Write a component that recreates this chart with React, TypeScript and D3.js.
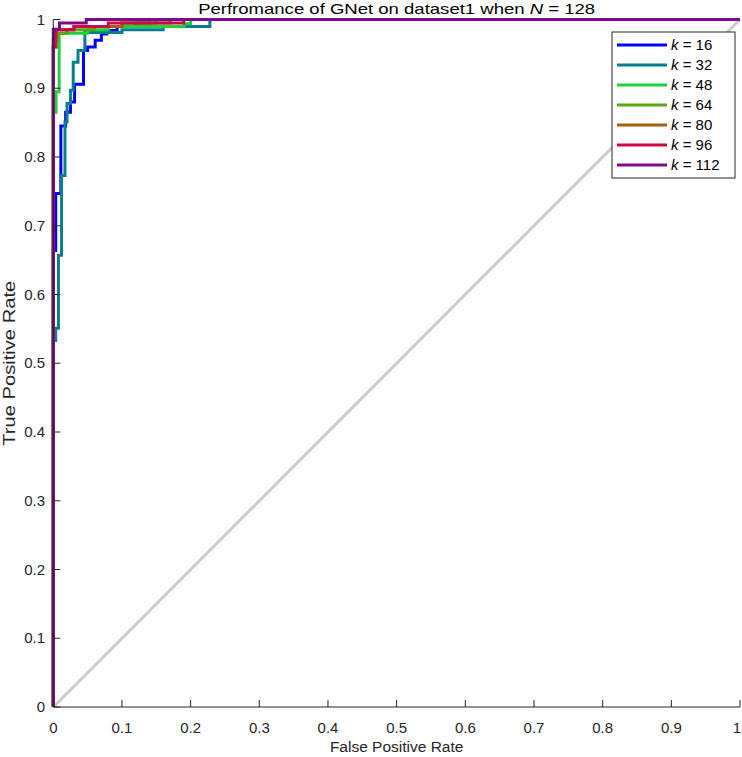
import React from "react";
import * as d3 from "d3";

const seriesLabels = ["16", "32", "48", "64", "80", "96", "112"];
const seriesColors = ["#0000ff", "#0a7f8c", "#1ed23c", "#5ea510", "#a65f0a", "#cc0a46", "#7e0a8c"];

// ROC corner points (FPR, TPR), drawn as step-after curves
const roc16: [number, number][] = [[0, 0], [0, 0.664], [0.0035, 0.747], [0.011, 0.845], [0.018, 0.865], [0.025, 0.88], [0.031, 0.906], [0.044, 0.955], [0.05, 0.96], [0.061, 0.97], [0.07, 0.979], [0.078, 0.984], [0.093, 0.99], [0.12, 0.995], [0.14, 1], [1, 1]];
const roc32: [number, number][] = [[0, 0], [0, 0.533], [0.0035, 0.551], [0.0075, 0.657], [0.012, 0.773], [0.017, 0.851], [0.02, 0.878], [0.025, 0.897], [0.029, 0.938], [0.036, 0.955], [0.046, 0.981], [0.1, 0.985], [0.16, 0.99], [0.228, 0.995], [0.228, 1], [1, 1]];
const roc48: [number, number][] = [[0, 0], [0, 0.865], [0.004, 0.895], [0.0085, 0.98], [0.05, 0.985], [0.08, 0.99], [0.19, 0.994], [0.2, 1], [1, 1]];
const roc64: [number, number][] = [[0, 0], [0, 0.96], [0.005, 0.98], [0.02, 0.985], [0.06, 0.99], [0.1, 0.995], [0.15, 1], [1, 1]];
const roc80: [number, number][] = [[0, 0], [0, 0.97], [0.005, 0.985], [0.03, 0.99], [0.1, 0.995], [0.17, 1], [1, 1]];
const roc96: [number, number][] = [[0, 0], [0, 0.96], [0.003, 0.985], [0.03, 0.99], [0.08, 0.995], [0.19, 1], [1, 1]];
const roc112: [number, number][] = [[0, 0], [0, 0.986], [0.009, 0.995], [0.048, 1], [1, 1]];
const allRoc = [roc16, roc32, roc48, roc64, roc80, roc96, roc112];

const xTicks = [0, 0.1, 0.2, 0.3, 0.4, 0.5, 0.6, 0.7, 0.8, 0.9, 1];
const yTicks = [0, 0.1, 0.2, 0.3, 0.4, 0.5, 0.6, 0.7, 0.8, 0.9, 1];
const diagonal: [number, number][] = [[0, 0], [1, 1]];

const W = 742, H = 757;
const left = 53.3, right = 740, top = 19.5, bottom = 707;
const font = "'Liberation Sans', Arial, sans-serif";
const axisColor = "#262626";

export default function App() {
  const x = d3.scaleLinear().domain([0, 1]).range([left, right]);
  const y = d3.scaleLinear().domain([0, 1]).range([bottom, top]);
  const line = d3.line<[number, number]>().x(d => x(d[0])).y(d => y(d[1])).curve(d3.curveStepAfter);
  const straight = d3.line<[number, number]>().x(d => x(d[0])).y(d => y(d[1]));
  const fmt = (v: number) => (v === 0 ? "0" : v === 1 ? "1" : String(v));

  const legX = 612, legY = 32, legW = 123, legH = 146;

  return (
    <svg width={W} height={H} style={{ position: "absolute", left: 0, top: 0, background: "#fff" }} fontFamily={font}>
      <rect x={0} y={0} width={W} height={H} fill="#fff" />
      <path d={straight(diagonal) || ""} stroke="#cccccc" strokeWidth={3} fill="none" />
      {allRoc.map((pts, i) => (
        <path key={i} d={line(pts) || ""} stroke={seriesColors[i]} strokeWidth={3} fill="none" strokeLinejoin="miter" />
      ))}
      {/* axes */}
      <line x1={left} x2={right} y1={bottom} y2={bottom} stroke={axisColor} strokeWidth={1} />
      <line x1={left} x2={left} y1={bottom} y2={top} stroke={axisColor} strokeWidth={1} />
      {xTicks.map(t => (
        <g key={"x" + t}>
          <line x1={x(t)} x2={x(t)} y1={bottom} y2={bottom - 7} stroke={axisColor} strokeWidth={1} />
          <text x={Math.min(x(t), 737)} y={733} fontSize={15} textAnchor="middle" fill={axisColor}>{fmt(t)}</text>
        </g>
      ))}
      {yTicks.map(t => (
        <g key={"y" + t}>
          <line x1={left} x2={left + 7} y1={y(t)} y2={y(t)} stroke={axisColor} strokeWidth={1} />
          <text x={45} y={y(t) + 5} fontSize={15} textAnchor="end" fill={axisColor}>{fmt(t)}</text>
        </g>
      ))}
      <text x={(left + right) / 2} y={752} fontSize={15.5} textAnchor="middle" fill={axisColor}>False Positive Rate</text>
      <text transform={`translate(15,${(top + bottom) / 2}) rotate(-90)`} fontSize={17} textAnchor="middle" fill={axisColor}
        textLength={165} lengthAdjust="spacingAndGlyphs">True Positive Rate</text>
      <text x={(left + right) / 2} y={14} fontSize={15} textAnchor="middle" fill="#000" textLength={397} lengthAdjust="spacingAndGlyphs">
        Perfromance of GNet on dataset1 when <tspan fontStyle="italic">N</tspan> = 128
      </text>
      {/* legend */}
      <rect x={legX} y={legY} width={legW} height={legH} fill="#fff" stroke={axisColor} strokeWidth={1} />
      {seriesLabels.map((lab, i) => {
        const ly = legY + 13 + i * 20;
        return (
          <g key={lab}>
            <line x1={legX + 5} x2={legX + 55} y1={ly} y2={ly} stroke={seriesColors[i]} strokeWidth={3} />
            <text x={legX + 59} y={ly + 5} fontSize={15} fill="#000">
              <tspan fontStyle="italic">k</tspan> = {lab}
            </text>
          </g>
        );
      })}
    </svg>
  );
}
